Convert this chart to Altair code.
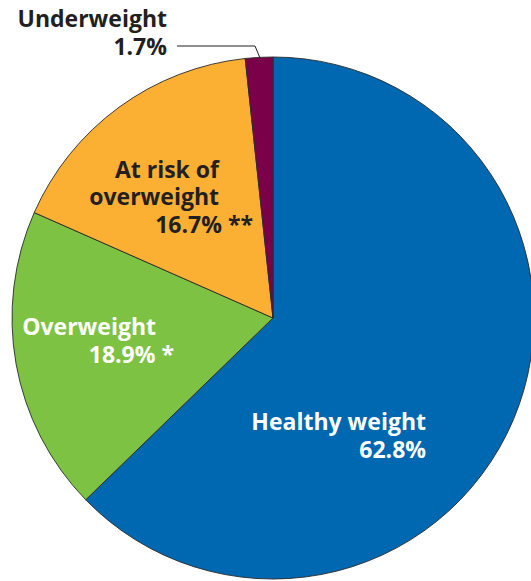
import altair as alt
import pandas as pd

categories = ["Healthy weight", "Overweight", "At risk of overweight", "Underweight"]
values = [62.8, 18.9, 16.7, 1.7]
notes = ["", "*", "**", ""]
colors = ["#0067B1", "#7DC242", "#FBB034", "#7A0049"]

df = pd.DataFrame({
    "category": categories,
    "value": values,
    "order": list(range(len(categories))),
})

CX, CY, R = 273, 318, 261
FONT = "Open Sans"
FS = 23

pie = alt.Chart(df).mark_arc(
    outerRadius=R, stroke="#2a2a2a", strokeWidth=0.9
).encode(
    theta=alt.Theta("value:Q", stack=True),
    order=alt.Order("order:Q"),
    color=alt.Color("category:N", scale=alt.Scale(domain=categories, range=colors), legend=None),
    x=alt.value(CX),
    y=alt.value(CY),
)

def pct(i):
    return f"{values[i]}%"

def txt(s, x, y, color, align="right"):
    return alt.Chart(df.head(1)).mark_text(
        font=FONT, fontSize=FS, fontWeight="bold", color=color,
        align=align, baseline="alphabetic"
    ).encode(text=alt.value(s), x=alt.value(x), y=alt.value(y))

dark = "#231F20"
layers = [pie]
# Healthy weight
layers.append(txt("Healthy weight", 426, 430, "white"))
layers.append(txt(pct(0), 426, 458, "white"))
# Overweight
layers.append(txt("Overweight", 156, 335, "white"))
layers.append(txt(pct(1) + " " + notes[1], 174, 363, "white"))
# At risk
layers.append(txt("At risk of", 219, 178, dark))
layers.append(txt("overweight", 219, 205, dark))
layers.append(txt(pct(2) + " " + notes[2], 253, 233, dark))
# Underweight
layers.append(txt("Underweight", 167, 27, dark))
layers.append(txt(pct(3), 167, 55, dark))

# leader line
lead1 = alt.Chart(df.head(1)).mark_rule(color=dark, strokeWidth=1).encode(
    x=alt.value(177), x2=alt.value(255), y=alt.value(46))
lead2 = alt.Chart(df.head(1)).mark_rule(color=dark, strokeWidth=1).encode(
    x=alt.value(255), x2=alt.value(260), y=alt.value(46), y2=alt.value(58))
layers += [lead1, lead2]

chart = alt.layer(*layers).properties(
    width=531, height=581, padding=0, autosize="none", background="white"
).configure_view(stroke=None)

chart.save("out.html", embed_options={"renderer": "svg", "actions": False})
